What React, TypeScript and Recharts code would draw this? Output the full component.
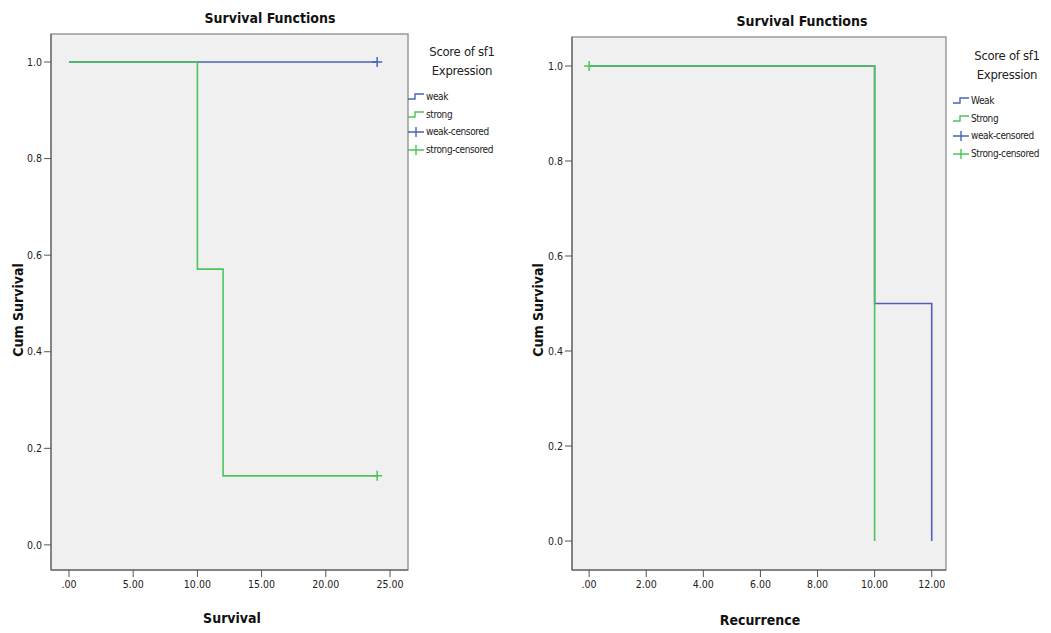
import React from 'react';
import { ComposedChart, Line, Scatter, XAxis, YAxis, ReferenceArea } from 'recharts';

// left panel: overall survival
const survTimesWeak = [0, 24];
const survWeak = [1, 1];
const survTimesStrong = [0, 10, 12, 24];
const survStrong = [1, 0.571, 0.143, 0.143];
const survCensoredWeak = [{ t: 24, s: 1 }];
const survCensoredStrong = [{ t: 24, s: 0.143 }];
const survXTicks = [0, 5, 10, 15, 20, 25];

// right panel: recurrence
const recTimesWeak = [0, 10, 12];
const recWeak = [1, 0.5, 0];
const recTimesStrong = [0, 10];
const recStrong = [1, 0];
const recCensoredStrong = [{ t: 0, s: 1 }];
const recXTicks = [0, 2, 4, 6, 8, 10, 12];

const yTicks = [0, 0.2, 0.4, 0.6, 0.8, 1.0];

const BLUE = '#4a62b8';
const GREEN = '#4cc45a';
const FONT = '"Liberation Sans Narrow", "DejaVu Sans Condensed", "Liberation Sans", Arial, sans-serif';

const toRows = (ts: number[], ss: number[]) => ts.map((t, i) => ({ t, s: ss[i] }));

const plus = (color: string) => (props: any) => (
  <path
    d={`M${props.cx - 5},${props.cy}h10M${props.cx},${props.cy - 5}v10`}
    stroke={color}
    strokeWidth={1.5}
    fill="none"
  />
);

const fmtX = (v: number) => (v === 0 ? '.00' : v.toFixed(2));
const fmtY = (v: number) => v.toFixed(1);

interface PanelProps {
  left: number;
  width: number;
  margin: { top: number; right: number; bottom: number; left: number };
  xDomain: [number, number];
  yDomain: [number, number];
  xTicks: number[];
  weak: { t: number; s: number }[];
  strong: { t: number; s: number }[];
  weakCens: { t: number; s: number }[];
  strongCens: { t: number; s: number }[];
}

const Panel: React.FC<PanelProps> = (p) => {
  const tick = { fill: '#222', fontSize: 10.5, fontFamily: FONT };
  return (
    <div style={{ position: 'absolute', left: p.left, top: 0 }}>
      <ComposedChart width={p.width} height={633} margin={p.margin}>
        <ReferenceArea
          x1={p.xDomain[0]}
          x2={p.xDomain[1]}
          y1={p.yDomain[0]}
          y2={p.yDomain[1]}
          fill="#f0f0f0"
          fillOpacity={1}
          stroke="#9a9a9a"
          strokeWidth={1.5}
        />
        <XAxis
          type="number"
          dataKey="t"
          domain={p.xDomain}
          ticks={p.xTicks}
          allowDataOverflow
          tickFormatter={fmtX}
          height={30}
          tickSize={7}
          tickMargin={4}
          tick={tick}
          stroke="#555"
        />
        <YAxis
          type="number"
          dataKey="s"
          domain={p.yDomain}
          ticks={yTicks}
          allowDataOverflow
          tickFormatter={fmtY}
          width={28}
          tickSize={7}
          tickMargin={2}
          tick={tick}
          stroke="#555"
        />
        <Line data={p.weak} dataKey="s" type="stepAfter" stroke={BLUE} strokeWidth={1.6} dot={false} isAnimationActive={false} />
        <Line data={p.strong} dataKey="s" type="stepAfter" stroke={GREEN} strokeWidth={1.6} dot={false} isAnimationActive={false} />
        <Scatter data={p.weakCens} dataKey="s" shape={plus(BLUE)} isAnimationActive={false} />
        <Scatter data={p.strongCens} dataKey="s" shape={plus(GREEN)} isAnimationActive={false} />
      </ComposedChart>
    </div>
  );
};

const StepIcon = ({ color }: { color: string }) => (
  <svg width={16} height={10} style={{ verticalAlign: 'middle', marginRight: 2 }}>
    <path d="M0,7H7V2H16" stroke={color} strokeWidth={1.4} fill="none" />
  </svg>
);
const PlusIcon = ({ color }: { color: string }) => (
  <svg width={16} height={10} style={{ verticalAlign: 'middle', marginRight: 2 }}>
    <path d="M0,5H16M8,0V10" stroke={color} strokeWidth={1.4} fill="none" />
  </svg>
);

const LegendBox = ({ left, top, labels }: { left: number; top: number; labels: string[] }) => (
  <div style={{ position: 'absolute', left, top, fontFamily: FONT, fontSize: 10, letterSpacing: -0.4, color: '#222' }}>
    <div style={{ textAlign: 'center', fontSize: 13, letterSpacing: -0.3, lineHeight: '19px', width: 100, marginLeft: 4 }}>
      Score of sf1
      <br />
      Expression
    </div>
    <div style={{ marginTop: 8, lineHeight: '17.5px', whiteSpace: 'nowrap' }}>
      <div><StepIcon color={BLUE} />{labels[0]}</div>
      <div><StepIcon color={GREEN} />{labels[1]}</div>
      <div><PlusIcon color={BLUE} />{labels[2]}</div>
      <div><PlusIcon color={GREEN} />{labels[3]}</div>
    </div>
  </div>
);

const Text = ({ x, y, children, size = 14, bold = true, rotate = false }: any) => (
  <div
    style={{
      position: 'absolute',
      left: x,
      top: y,
      transform: `translate(-50%, -50%)${rotate ? ' rotate(-90deg)' : ''}`,
      fontFamily: FONT,
      fontSize: size,
      fontWeight: bold ? 'bold' : 'normal',
      whiteSpace: 'nowrap',
      color: '#111',
    }}
  >
    {children}
  </div>
);

export default function App() {
  return (
    <div style={{ position: 'absolute', left: 0, top: 0, width: 1051, height: 633, background: '#fff', overflow: 'hidden' }}>
      <Panel
        left={0}
        width={430}
        margin={{ top: 34, right: 22, bottom: 33, left: 23 }}
        xDomain={[-1.4, 26.4]}
        yDomain={[-0.052, 1.058]}
        xTicks={survXTicks}
        weak={toRows(survTimesWeak, survWeak)}
        strong={toRows(survTimesStrong, survStrong)}
        weakCens={survCensoredWeak}
        strongCens={survCensoredStrong}
      />
      <Panel
        left={530}
        width={430}
        margin={{ top: 37, right: 14, bottom: 33, left: 14 }}
        xDomain={[-0.6, 12.5]}
        yDomain={[-0.061, 1.061]}
        xTicks={recXTicks}
        weak={toRows(recTimesWeak, recWeak)}
        strong={toRows(recTimesStrong, recStrong)}
        weakCens={[]}
        strongCens={recCensoredStrong}
      />
      <Text x={270} y={18}>Survival Functions</Text>
      <Text x={802} y={21}>Survival Functions</Text>
      <Text x={232} y={618}>Survival</Text>
      <Text x={760} y={620}>Recurrence</Text>
      <Text x={18} y={310} rotate>Cum Survival</Text>
      <Text x={538} y={310} rotate>Cum Survival</Text>
      <LegendBox left={408} top={42} labels={['weak', 'strong', 'weak-censored', 'strong-censored']} />
      <LegendBox left={953} top={46} labels={['Weak', 'Strong', 'weak-censored', 'Strong-censored']} />
    </div>
  );
}
